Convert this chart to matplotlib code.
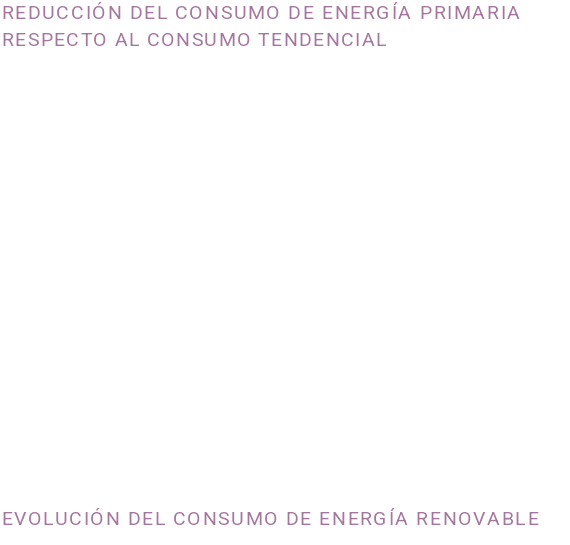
import matplotlib as mpl
mpl.use('Agg')
import matplotlib.pyplot as plt
from matplotlib import font_manager
from matplotlib.ft2font import FT2Font

titles = ['REDUCCIÓN DEL CONSUMO DE ENERGÍA PRIMARIA',
          'RESPECTO AL CONSUMO TENDENCIAL',
          'EVOLUCIÓN DEL CONSUMO DE ENERGÍA RENOVABLE']
baselines = [19, 46.5, 525]    # px from top
right_ends = [520, 386, 538]   # px, where each line stops
color = '#a5779f'
fam = 'Roboto'
size = 14
weight = 'normal'

W, H = 570, 545
fig = plt.figure(figsize=(W / 100, H / 100), dpi=100)
fig.patch.set_facecolor('white')

# letter-spaced headings: matplotlib has no tracking, so lay out by glyph advance
fp = font_manager.FontProperties(family=fam, weight=weight)
ft = FT2Font(font_manager.findfont(fp))
ft.set_size(size, 100)

def advance(c):
    g = ft.load_char(ord(c))
    return g.linearHoriAdvance / 65536

for t, b, r in zip(titles, baselines, right_ends):
    adv = [advance(c) for c in t]
    x0 = 1.0
    track = (r - x0 - sum(adv)) / (len(t) - 1)
    x = x0
    for c, a in zip(t, adv):
        if c != ' ':
            fig.text(x / W, 1 - b / H, c, color=color, fontsize=size,
                     family=fam, weight=weight, ha='left', va='baseline')
        x += a + track

fig.savefig('out.png', dpi=100, facecolor='white')
